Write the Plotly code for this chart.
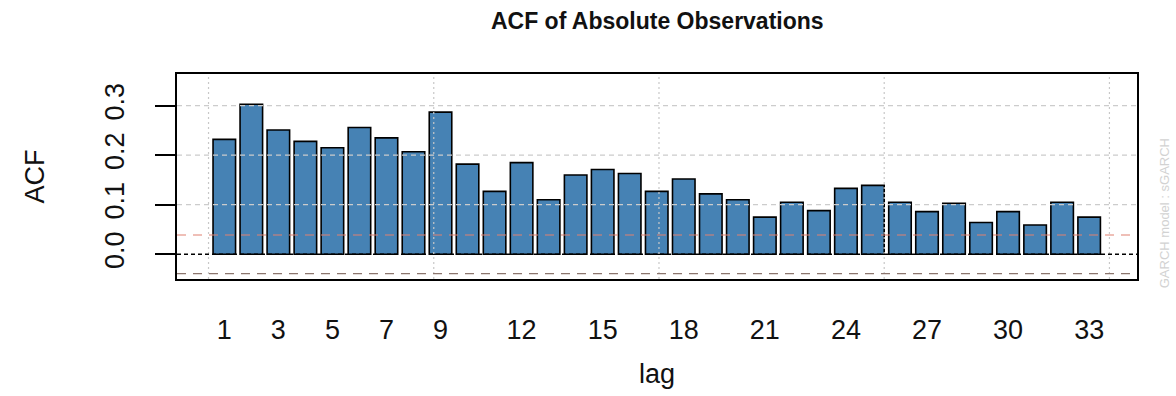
import plotly.graph_objects as go

# ACF of absolute observations, lags 1..33
lags = list(range(1, 34))
acf_values = [0.232, 0.303, 0.251, 0.228, 0.215, 0.256, 0.235, 0.207, 0.287, 0.182,
              0.127, 0.185, 0.110, 0.160, 0.171, 0.163, 0.127, 0.152, 0.122, 0.110,
              0.075, 0.105, 0.088, 0.133, 0.139, 0.105, 0.086, 0.103, 0.064, 0.086,
              0.059, 0.105, 0.075]
conf_bound = 0.039
x_tick_vals = [1, 3, 5, 7, 9, 12, 15, 18, 21, 24, 27, 30, 33]
y_tick_vals = [0.0, 0.1, 0.2, 0.3]
y_tick_text = ["0.0", "0.1", "0.2", "0.3"]

FONT = "Liberation Sans, Arial, sans-serif"

# barplot layout: unit bars separated by 0.2 spaces
bar_w = 1 / 1.2
x_lo, x_hi = -0.75, 34.77
y_lo, y_hi = -0.05, 0.364

fig = go.Figure()
fig.add_trace(go.Bar(
    x=lags, y=acf_values, width=bar_w,
    marker=dict(color="#4682B4", line=dict(color="black", width=1.6)),
    hoverinfo="x+y", showlegend=False,
))

shapes = []
# horizontal grid
for v in [0.1, 0.2, 0.3]:
    shapes.append(dict(type="line", xref="paper", yref="y", x0=0, x1=1, y0=v, y1=v,
                       line=dict(color="#cccccc", width=1.2, dash="5px,4px"), layer="above"))
# vertical grid at barplot coordinates 0, 10, 20, 30, 40
for c in [0, 10, 20, 30, 40]:
    xv = 1 + (c - 0.7) / 1.2
    shapes.append(dict(type="line", xref="x", yref="paper", x0=xv, x1=xv, y0=0, y1=1,
                       line=dict(color="#c8c8c8", width=1.2, dash="2px,3px"), layer="above"))
# confidence bounds
shapes.append(dict(type="line", xref="paper", yref="y", x0=0, x1=1, y0=conf_bound, y1=conf_bound,
                   line=dict(color="#e08070", width=1.1, dash="9px,7px"), layer="above"))
shapes.append(dict(type="line", xref="paper", yref="y", x0=0, x1=1, y0=-conf_bound, y1=-conf_bound,
                   line=dict(color="#8c766e", width=1.3, dash="9px,7px"), layer="above"))
# zero line
shapes.append(dict(type="line", xref="paper", yref="y", x0=0, x1=1, y0=0, y1=0,
                   line=dict(color="black", width=1.6, dash="4px,3px"), layer="above"))

fig.update_layout(
    width=1176, height=396,
    margin=dict(l=177, r=39, t=74, b=110),
    paper_bgcolor="white", plot_bgcolor="white",
    shapes=shapes,
    title=dict(text="<b>ACF of Absolute Observations</b>", x=0.5589, xanchor="center",
               y=0.948, yanchor="middle",
               font=dict(family=FONT, size=23, color="#111111")),
    xaxis=dict(range=[x_lo, x_hi], tickvals=x_tick_vals, ticktext=[str(v) for v in x_tick_vals],
               ticks="", showgrid=False, zeroline=False,
               showline=True, linecolor="black", linewidth=1.6, mirror=True,
               ticklabelstandoff=26,
               tickfont=dict(family=FONT, size=27, color="#111111"),
               title=dict(text="lag", font=dict(family=FONT, size=27, color="#111111"), standoff=20)),
    yaxis=dict(range=[y_lo, y_hi], tickvals=y_tick_vals, ticktext=y_tick_text,
               ticks="outside", ticklen=20, tickwidth=1.6, tickcolor="black",
               tickangle=-90, ticklabelstandoff=20,
               showgrid=False, zeroline=False,
               showline=True, linecolor="black", linewidth=1.6, mirror=True,
               tickfont=dict(family=FONT, size=27, color="#111111"),
               title=dict(text="ACF", font=dict(family=FONT, size=27, color="#111111"), standoff=48)),
    annotations=[dict(text="GARCH model : sGARCH", xref="paper", yref="paper",
                      x=1.029, y=0.32, textangle=-90, showarrow=False,
                      xanchor="center", yanchor="middle",
                      font=dict(family=FONT, size=13, color="#d2d2d2"))],
)

fig.write_html("out.html")
